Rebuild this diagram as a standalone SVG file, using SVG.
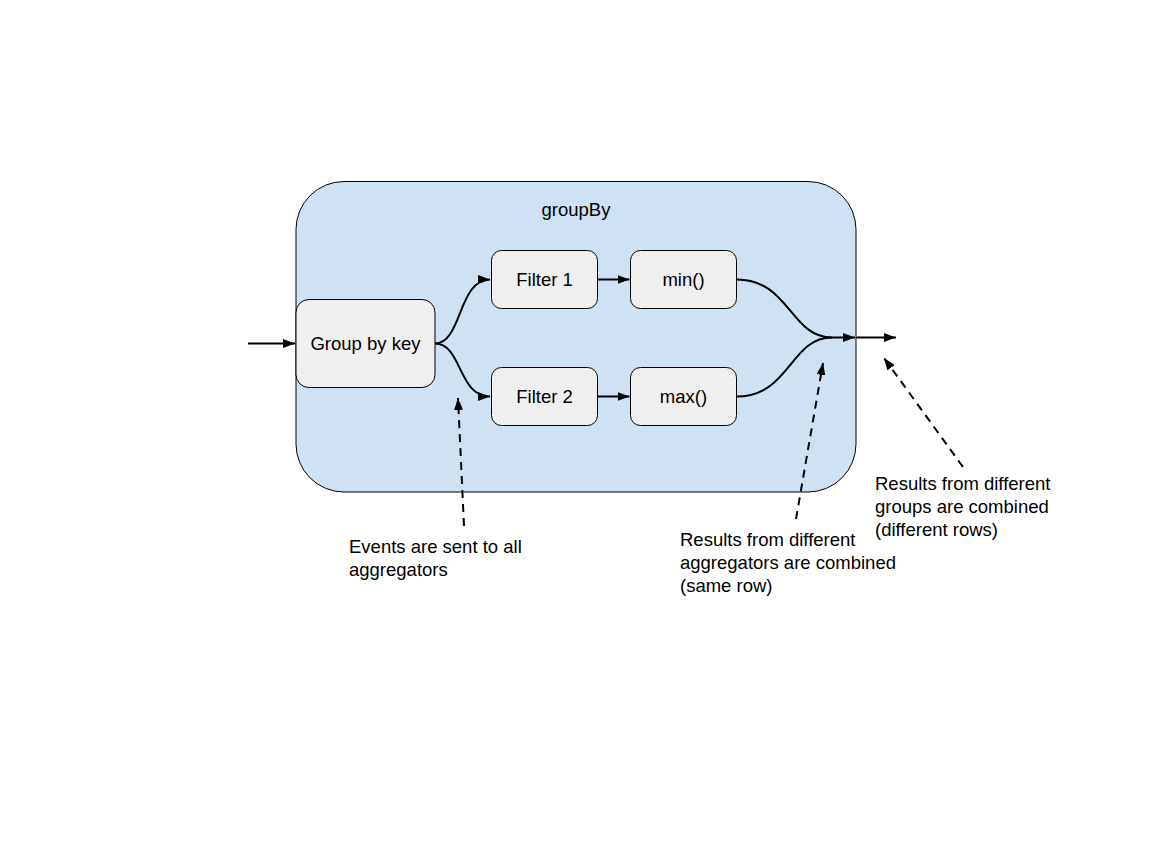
<svg xmlns="http://www.w3.org/2000/svg" width="1152" height="864" viewBox="0 0 1152 864">
<defs>
<marker id="ah" viewBox="0 0 10 10" refX="10" refY="5" markerWidth="6" markerHeight="4.5" markerUnits="strokeWidth" orient="auto" preserveAspectRatio="none">
<path d="M0,0 L10,5 L0,10 z" fill="#000"/>
</marker>
<style>
text{font-family:"Liberation Sans",Arial,sans-serif;font-size:18.5px;fill:#000}
.node rect{fill:#efefef;stroke:#000;stroke-width:1}
.c{fill:none;stroke:#000;stroke-width:2}
.d{fill:none;stroke:#000;stroke-width:2;stroke-dasharray:8,6}
.m{text-anchor:middle}
</style>
</defs>
<rect width="1152" height="864" fill="#fff"/>
<g id="groupBy">
<rect x="296" y="181.5" width="560" height="310.5" rx="48" ry="48" fill="#cfe2f3" stroke="#000" stroke-width="1"/>
<text class="m" x="576" y="216">groupBy</text>
</g>
<g id="groupByKey" class="node">
<rect x="296" y="299.5" width="139" height="88" rx="13"/>
<text class="m" x="365.5" y="350">Group by key</text>
</g>
<g id="filter1" class="node">
<rect x="491.5" y="250.5" width="106" height="58" rx="10"/>
<text class="m" x="544.5" y="286">Filter 1</text>
</g>
<g id="min" class="node">
<rect x="630.5" y="250.5" width="106" height="58" rx="10"/>
<text class="m" x="683.5" y="286">min()</text>
</g>
<g id="filter2" class="node">
<rect x="491.5" y="367.5" width="106" height="58" rx="10"/>
<text class="m" x="544.5" y="403">Filter 2</text>
</g>
<g id="max" class="node">
<rect x="630.5" y="367.5" width="106" height="58" rx="10"/>
<text class="m" x="683.5" y="403">max()</text>
</g>
<g id="connectors">
<path class="c" d="M248,343.5 H295" marker-end="url(#ah)"/>
<path class="c" d="M435,343.5 C462,343.5 458,279.5 490,279.5" marker-end="url(#ah)"/>
<path class="c" d="M435,343.5 C462,343.5 458,396.5 490,396.5" marker-end="url(#ah)"/>
<path class="c" d="M597.5,279.5 H629.5" marker-end="url(#ah)"/>
<path class="c" d="M597.5,396.5 H629.5" marker-end="url(#ah)"/>
<path class="c" d="M736.5,279.5 C790,279.5 790,337.5 832,337.5 H855" marker-end="url(#ah)"/>
<path class="c" d="M736.5,396.5 C790,396.5 790,337.5 832,337.5"/>
<path class="c" d="M856,337.5 H896" marker-end="url(#ah)"/>
<path class="d" d="M464,526 L458,398" marker-end="url(#ah)"/>
<path class="d" d="M796,519 L823,363" marker-end="url(#ah)"/>
<path class="d" d="M963,467 L884,358" marker-end="url(#ah)"/>
</g>
<g id="notes">
<text x="349" y="553">Events are sent to all</text>
<text x="349" y="576">aggregators</text>
<text x="680" y="546">Results from different</text>
<text x="680" y="569">aggregators are combined</text>
<text x="680" y="592">(same row)</text>
<text x="875" y="490">Results from different</text>
<text x="875" y="513">groups are combined</text>
<text x="875" y="536">(different rows)</text>
</g>
</svg>
